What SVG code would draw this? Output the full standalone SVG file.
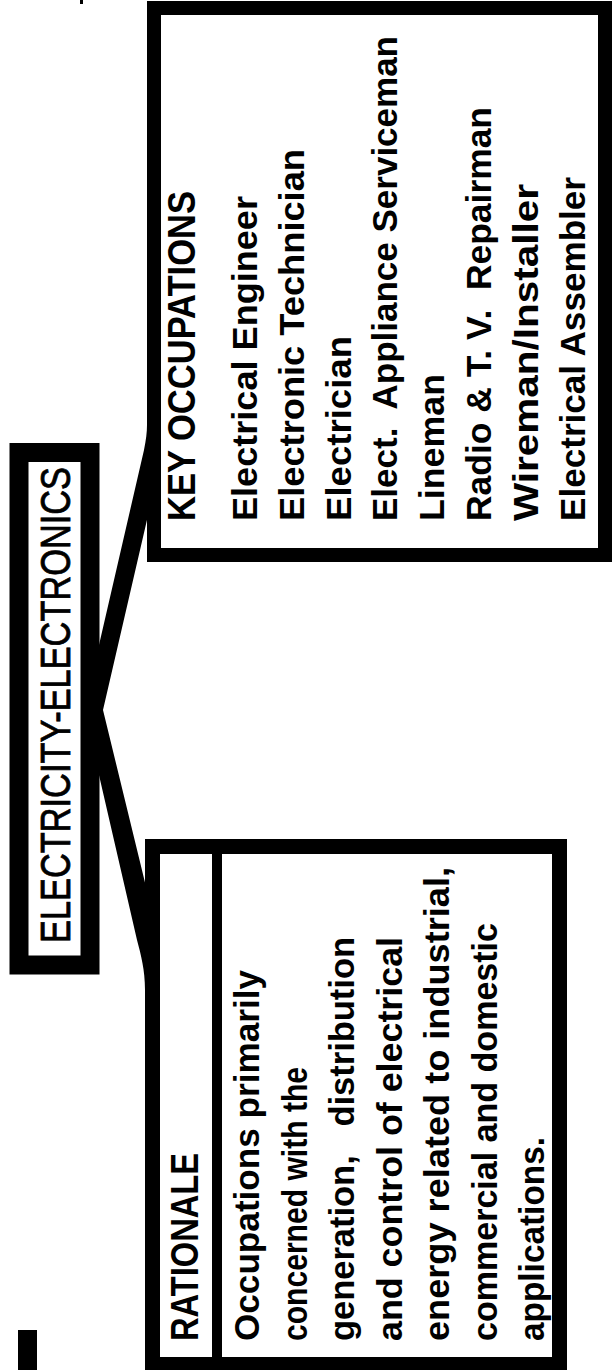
<svg xmlns="http://www.w3.org/2000/svg" width="612" height="1370" viewBox="0 0 612 1370">
  <style>
    .frame { fill: #ffffff; stroke: #000000; stroke-linejoin: miter; }
    .ink { fill: #000000; }
    .head { font-family: "Liberation Sans Narrow", "Liberation Sans", Arial, sans-serif; font-weight: bold; font-size: 38px; fill: #000000; }
    .body { font-family: "Liberation Sans Narrow", "Liberation Sans", Arial, sans-serif; font-weight: bold; font-size: 35px; fill: #000000; }
    .title { font-family: "Liberation Sans Narrow", "Liberation Sans", Arial, sans-serif; font-weight: normal; font-size: 42px; fill: #000000; stroke: #000000; stroke-width: 0.8px; }
  </style>
  <rect width="612" height="1370" fill="#ffffff"/>

  <!-- loose marks on the sheet -->
  <g id="marks">
    <rect class="ink" x="80" y="0" width="3" height="4"/>
    <rect class="ink" x="18" y="1330" width="19" height="40"/>
  </g>

  <!-- wedge connectors from the title to both panels -->
  <g id="connectors">
    <path class="ink" d="M84,710 L144,450 C146,440 147,432 147,425 L159,425 L159,468 L103,710 Z"/>
    <path class="ink" d="M84,710 L103,710 L159,940 L159,1000 L145,1000 L145,990 C145,970 141,955 137,940 Z"/>
  </g>

  <!-- title panel -->
  <g id="node-title">
    <rect class="frame" x="19" y="452.5" width="71" height="512.5" stroke-width="19"/>
    <text class="title" transform="translate(70,943) rotate(-90)" textLength="476" lengthAdjust="spacingAndGlyphs">ELECTRICITY-ELECTRONICS</text>
  </g>

  <!-- key occupations panel -->
  <g id="node-key-occupations">
    <rect class="frame" x="154" y="8" width="451" height="547" stroke-width="14"/>
    <text class="head" transform="translate(195,521) rotate(-90)" textLength="330" lengthAdjust="spacingAndGlyphs">KEY OCCUPATIONS</text>
    <text class="body" transform="translate(257,521) rotate(-90)" textLength="325" lengthAdjust="spacingAndGlyphs">Electrical Engineer</text>
    <text class="body" transform="translate(303.8,521) rotate(-90)" textLength="372" lengthAdjust="spacingAndGlyphs">Electronic Technician</text>
    <text class="body" transform="translate(350.6,521) rotate(-90)" textLength="185" lengthAdjust="spacingAndGlyphs">Electrician</text>
    <text class="body" transform="translate(397.4,521) rotate(-90)" textLength="485" lengthAdjust="spacingAndGlyphs" xml:space="preserve">Elect.  Appliance Serviceman</text>
    <text class="body" transform="translate(444.2,521) rotate(-90)" textLength="147" lengthAdjust="spacingAndGlyphs">Lineman</text>
    <text class="body" transform="translate(491,521) rotate(-90)" textLength="414" lengthAdjust="spacingAndGlyphs" xml:space="preserve">Radio &amp; T. V.  Repairman</text>
    <text class="body" transform="translate(537.8,521) rotate(-90)" textLength="337" lengthAdjust="spacingAndGlyphs">Wireman/Installer</text>
    <text class="body" transform="translate(584.6,521) rotate(-90)" textLength="344" lengthAdjust="spacingAndGlyphs">Electrical Assembler</text>
  </g>

  <!-- rationale panel -->
  <g id="node-rationale">
    <rect class="frame" x="152.5" y="846.5" width="407" height="518" stroke-width="15"/>
    <rect class="ink" x="212" y="846" width="10" height="518"/>
    <text class="head" transform="translate(198,1341) rotate(-90)" textLength="188" lengthAdjust="spacingAndGlyphs">RATIONALE</text>
    <text class="body" transform="translate(259,1341) rotate(-90)" textLength="371" lengthAdjust="spacingAndGlyphs">Occupations primarily</text>
    <text class="body" transform="translate(306.5,1341) rotate(-90)" textLength="274" lengthAdjust="spacingAndGlyphs">concerned with the</text>
    <text class="body" transform="translate(354,1341) rotate(-90)" textLength="404" lengthAdjust="spacingAndGlyphs" xml:space="preserve">generation,   distribution</text>
    <text class="body" transform="translate(401.5,1341) rotate(-90)" textLength="404" lengthAdjust="spacingAndGlyphs">and control of electrical</text>
    <text class="body" transform="translate(449,1341) rotate(-90)" textLength="474" lengthAdjust="spacingAndGlyphs">energy related to industrial,</text>
    <text class="body" transform="translate(496.5,1341) rotate(-90)" textLength="418" lengthAdjust="spacingAndGlyphs">commercial and domestic</text>
    <text class="body" transform="translate(544,1341) rotate(-90)" textLength="204" lengthAdjust="spacingAndGlyphs">applications.</text>
  </g>
</svg>
